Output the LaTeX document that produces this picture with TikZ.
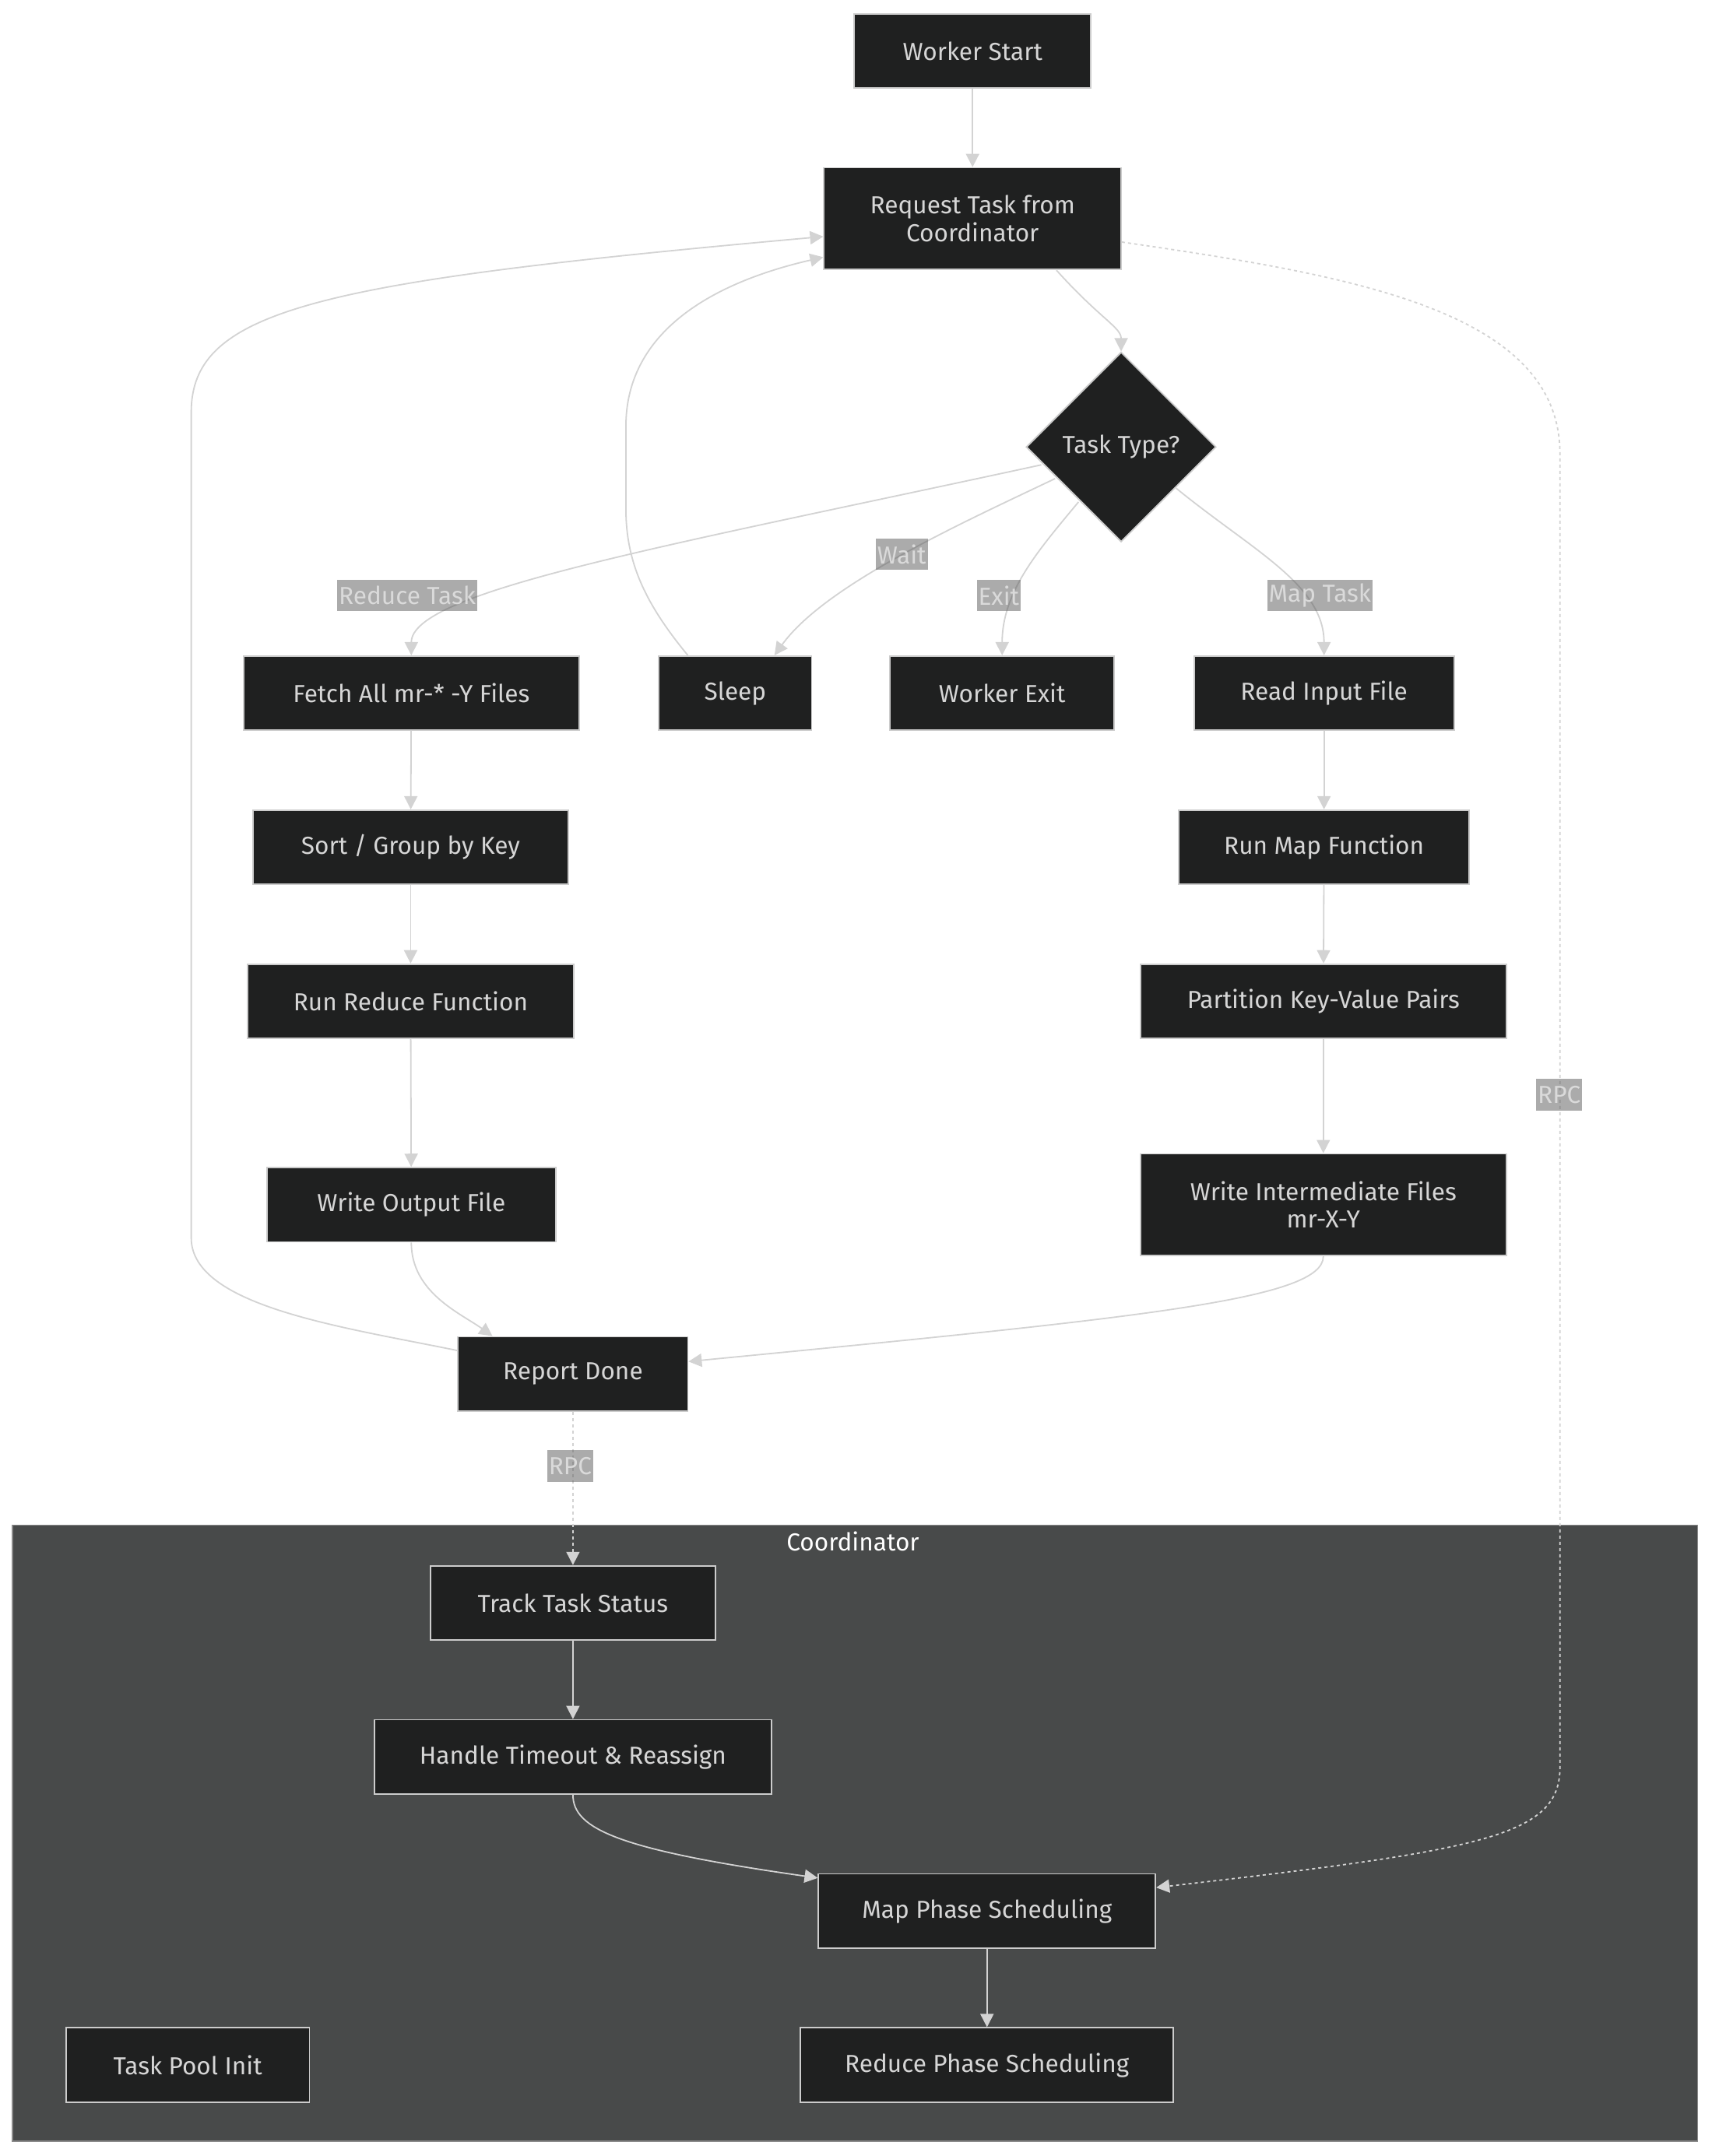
\documentclass[tikz,border=0pt]{standalone}
\usepackage{fontspec}
\setmainfont{Fira Sans}
\usetikzlibrary{shapes.geometric,arrows.meta,calc}
\definecolor{nodefill}{HTML}{1F2020}
\definecolor{nodeline}{HTML}{CCCCCC}
\definecolor{nodetext}{HTML}{D6D6D6}
\definecolor{edgecol}{HTML}{D3D3D3}
\definecolor{clusterfill}{HTML}{484A4A}
\definecolor{clusterline}{HTML}{8A8A8A}
\definecolor{lblfill}{HTML}{585858}
\definecolor{lbltext}{HTML}{DADADA}
\def\pxu{0.88345pt}
\newcommand\mainfnt{\fontsize{15.8pt}{17.7pt}\selectfont}
\begin{document}
\begin{tikzpicture}[x=\pxu,y=-\pxu,
  box/.style={draw=nodeline, fill=nodefill, line width=0.9pt, text=nodetext,
    minimum height=54*\pxu, inner sep=0pt, font=\mainfnt, align=center},
  dia/.style={diamond, aspect=1, draw=nodeline, fill=nodefill, line width=0.9pt,
    text=nodetext, font=\mainfnt, minimum width=138*\pxu, minimum height=138*\pxu, inner sep=0pt},
  edge/.style={draw=edgecol, line width=0.9pt, -{Triangle[length=8.5pt,width=8.5pt]}},
  rpc/.style={edge, dash pattern=on 2pt off 2pt},
  lbl/.style={fill=lblfill, fill opacity=0.5, text opacity=1, text=lbltext,
    font=\mainfnt, inner xsep=1pt, inner ysep=0pt, minimum height=23*\pxu},
  cluster/.style={draw=clusterline, fill=clusterfill, line width=0.8pt, inner sep=0pt}
]
\useasboundingbox[fill=white] (0,0) rectangle (1244,1567.7);

% Coordinator cluster
\node[cluster, minimum width=1225*\pxu, minimum height=448*\pxu] (coord) at (621.5,1333) {};
\node[font=\mainfnt, text=white] (coordtitle) at (620,1121) {Coordinator};

% Worker nodes
\node[box, minimum width=172*\pxu] (ws) at (707,37) {Worker Start};
\node[box, minimum width=216*\pxu, minimum height=74*\pxu] (req) at (707,159) {Request Task from\\Coordinator};
\node[dia] (tt) at (815,325) {Task Type?};
\node[box, minimum width=244*\pxu] (fetch) at (299,504) {Fetch All mr-* -Y Files};
\node[box, minimum width=111*\pxu] (sleep) at (534.5,504) {Sleep};
\node[box, minimum width=163*\pxu] (wexit) at (728.5,504) {Worker Exit};
\node[box, minimum width=189*\pxu] (read) at (962.5,504) {Read Input File};
\node[box, minimum width=229*\pxu] (sortg) at (298.5,616) {Sort / Group by Key};
\node[box, minimum width=211*\pxu] (runmap) at (962.5,616) {Run Map Function};
\node[box, minimum width=237*\pxu] (runred) at (298.5,728) {Run Reduce Function};
\node[box, minimum width=266*\pxu] (part) at (962,728) {Partition Key-Value Pairs};
\node[box, minimum width=210*\pxu] (wout) at (299,876) {Write Output File};
\node[box, minimum width=266*\pxu, minimum height=74*\pxu] (winter) at (962,876) {Write Intermediate Files\\mr-X-Y};
\node[box, minimum width=167*\pxu] (rdone) at (416.5,999) {Report Done};

% Coordinator nodes
\node[box, minimum width=207*\pxu] (track) at (416.5,1165.5) {Track Task Status};
\node[box, minimum width=289*\pxu] (handle) at (416.5,1277.5) {Handle Timeout \& Reassign};
\node[box, minimum width=245*\pxu] (mapph) at (717.5,1389.5) {Map Phase Scheduling};
\node[box, minimum width=177*\pxu] (pool) at (136.5,1501.5) {Task Pool Init};
\node[box, minimum width=271*\pxu] (redph) at (717.5,1501.5) {Reduce Phase Scheduling};

% Edges
\draw[edge] (ws) -- (req);
\draw[edge] ($(req.south)+(61,0)$) .. controls (800,232) and (815,238) .. (tt.north);
\draw[edge] ($(tt)+(-58,13)$) .. controls (480,398) and (299,430) .. (fetch.north);
\draw[edge] ($(tt)+(-48,23)$) .. controls (700,380) and (600,425) .. ($(sleep.north)+(28.5,0)$);
\draw[edge] ($(tt)+(-31,40)$) .. controls (755,400) and (728.5,430) .. (wexit.north);
\draw[edge] ($(tt)+(40,30)$) .. controls (910,400) and (962.5,425) .. (read.north);
\draw[edge] ($(sleep.north)+(-34.5,0)$) .. controls (470,440) and (455,410) .. (455,370)
  -- (455,310) .. controls (455,240) and (520,205) .. ($(req.west)+(0,28)$);
\draw[edge] ($(rdone.west)+(0,-17)$) .. controls (250,965) and (139,950) .. (139,900)
  -- (139,300) .. controls (139,225) and (230,205) .. ($(req.west)+(0,13)$);
\draw[edge] (fetch) -- (sortg);
\draw[edge] (sortg) -- (runred);
\draw[edge] (runred) -- (wout);
\draw[edge] (wout.south) .. controls (299,940) and (335,955) .. ($(rdone.north)+(-58.5,0)$);
\draw[edge] (read) -- (runmap);
\draw[edge] (runmap) -- (part);
\draw[edge] (part) -- (winter);
\draw[edge] (winter.south) .. controls (962,945) and (830,958) .. ($(rdone.east)+(0,-9)$);
\draw[rpc] (rdone) -- (track);
\draw[rpc] ($(req.east)+(0,17)$) .. controls (980,200) and (1134,225) .. (1134,330)
  -- (1134,1285) .. controls (1134,1335) and (1080,1345) .. ($(mapph.east)+(0,-17)$);
\draw[edge] (track) -- (handle);
\draw[edge] (handle.south) .. controls (416.5,1330) and (450,1345) .. ($(mapph.west)+(0,-24)$);
\draw[edge] (mapph) -- (redph);

% Edge labels
\node[lbl] (lreduce) at (296,433) {Reduce Task};
\node[lbl] (lwait) at (655.5,403) {Wait};
\node[lbl] (lexit) at (726,433) {Exit};
\node[lbl] (lmap) at (959.5,433) {Map Task};
\node[lbl] (lrpc1) at (1133.5,796) {RPC};
\node[lbl] (lrpc2) at (414.5,1066) {RPC};
\end{tikzpicture}
\end{document}
